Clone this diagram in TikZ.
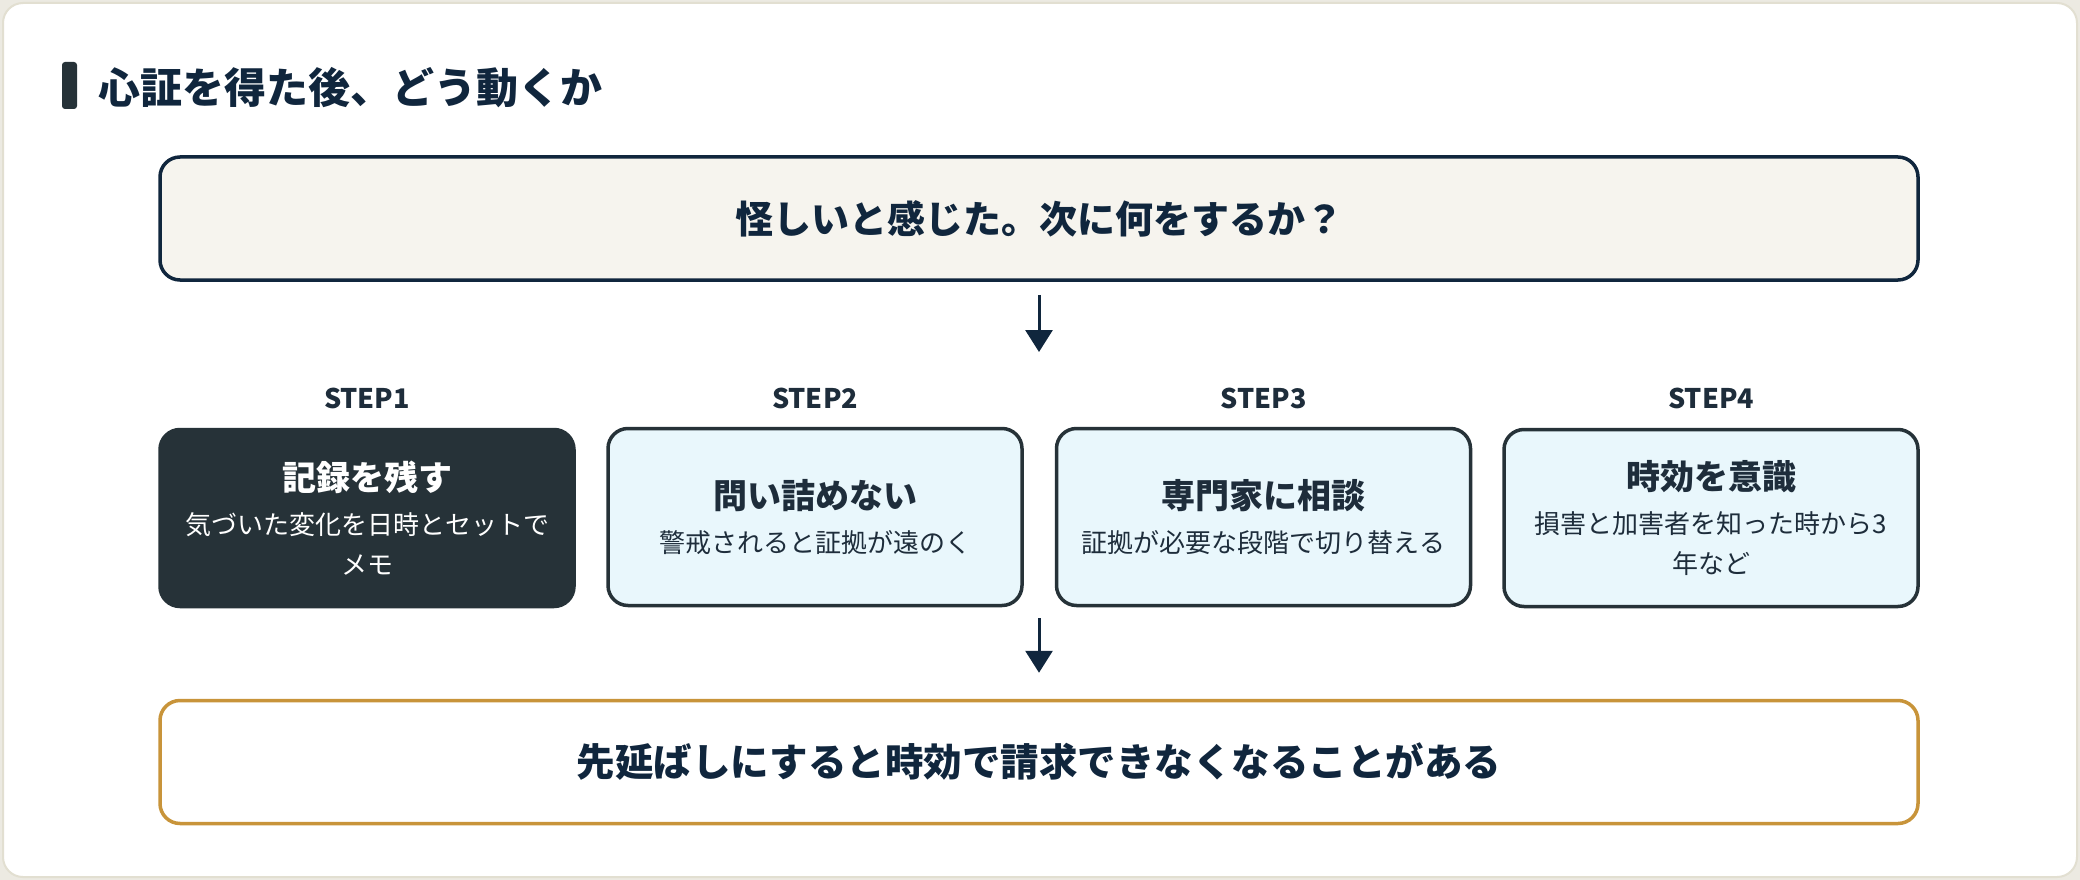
\documentclass[tikz,border=0pt]{standalone}
\usepackage{fontspec}
\setmainfont{Noto Sans CJK JP}
\usetikzlibrary{arrows.meta}
\definecolor{navy}{HTML}{10263D}
\definecolor{slate}{HTML}{263238}
\definecolor{pagebg}{HTML}{ECEAE2}
\definecolor{cardline}{HTML}{E2DFD1}
\definecolor{qfill}{HTML}{F6F4EE}
\definecolor{stepfill}{HTML}{E9F7FC}
\definecolor{gold}{HTML}{C8943A}
\definecolor{subtext}{HTML}{1E2D3B}
\tikzset{
  titlebar/.style={fill=slate, rounded corners=3pt, minimum width=15pt, minimum height=47pt, inner sep=0pt},
  titletext/.style={anchor=west, inner sep=0pt, text=navy, font=\fontsize{42}{50}\selectfont\bfseries},
  qbox/.style={draw=navy, fill=qfill, line width=3.5pt, rounded corners=20pt, minimum width=1758pt, minimum height=123pt, inner sep=0pt, text=navy, font=\fontsize{38}{44}\selectfont\bfseries},
  endbox/.style={draw=gold, fill=white, line width=3.5pt, rounded corners=20pt, minimum width=1758pt, minimum height=123pt, inner sep=0pt, text=navy, font=\fontsize{38.5}{44}\selectfont\bfseries},
  steplabel/.style={inner sep=0pt, text=subtext, font=\fontsize{27}{30}\selectfont\bfseries},
  stepbase/.style={line width=3.5pt, rounded corners=20pt, minimum width=414pt, minimum height=177pt, inner sep=0pt, text width=400pt, align=center, font=\fontsize{26}{40}\selectfont},
  stepdark/.style={stepbase, draw=slate, fill=slate, text=white},
  steplight/.style={stepbase, draw=slate, fill=stepfill, text=subtext},
  flowarrow/.style={draw=navy, line width=3pt, -{Triangle[length=22pt,width=27pt]}}
}
\newcommand{\steptitle}[1]{{\fontsize{34}{40}\selectfont\bfseries #1}\\[4pt]}
\begin{document}
\begin{tikzpicture}[x=1pt,y=-1pt]
\useasboundingbox (0,0) rectangle (2080,880);
\fill[pagebg] (0,0) rectangle (2080,880);
\draw[cardline, fill=white, line width=2pt, rounded corners=20pt] (3,3) rectangle (2077,877);
\node[titlebar] (bar) at (69.5,85.5) {};
\node[titletext] (title) at (98,88) {心証を得た後、どう動くか};
\node[qbox] (q) at (1039,218.5) {怪しいと感じた。次に何をするか？};
\coordinate (a1end) at (1039,352);
\draw[flowarrow, shorten <=13pt] (q) -- (a1end);
\node[steplabel] (l1) at (367,398) {STEP1};
\node[steplabel] (l2) at (815,398) {STEP2};
\node[steplabel] (l3) at (1263.5,398) {STEP3};
\node[steplabel] (l4) at (1711,398) {STEP4};
\node[stepdark] (s1) at (367,518) {\steptitle{記録を残す}気づいた変化を日時とセットで\\メモ};
\node[steplight] (s2) at (815,517) {\steptitle{問い詰めない}警戒されると証拠が遠のく};
\node[steplight] (s3) at (1263.5,517) {\steptitle{専門家に相談}証拠が必要な段階で切り替える};
\node[steplight] (s4) at (1711,518) {\steptitle{時効を意識}損害と加害者を知った時から3\\年など};
\node[endbox] (e) at (1039,762) {先延ばしにすると時効で請求できなくなることがある};
\coordinate (a2start) at (1039,605);
\draw[flowarrow, shorten <=13pt, shorten >=26pt] (a2start) -- (e);
\end{tikzpicture}
\end{document}
